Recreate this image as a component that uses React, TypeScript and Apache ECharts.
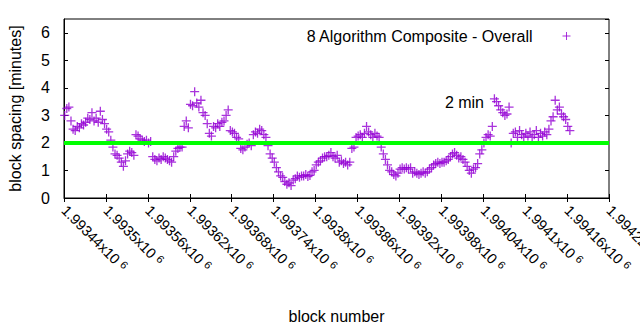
import React, { useEffect, useRef } from "react";
import * as echarts from "echarts";

// ---- data ----
const firstBlock = 1993441;
const blockStep = 3;
const spacingMinutes: number[] = [
  3.0, 3.25, 3.3, 2.8, 2.5,
  2.45, 2.6, 2.55, 2.7, 2.65,
  2.75, 2.9, 2.85, 3.1, 2.8,
  2.9, 2.75, 3.15, 2.85, 2.7,
  2.5, 2.4,
  2.1, 1.85, 1.6,
  1.55, 1.45,
  1.3, 1.15, 1.35,
  1.6, 1.7, 1.65,
  1.55,
  2.3, 2.25, 2.15,
  2.1, 2.05, 2.1, 2.0, 2.05,
  1.5, 1.4, 1.35, 1.45, 1.4,
  1.5, 1.45, 1.4, 1.35, 1.3,
  1.5, 1.7, 1.8, 1.85, 1.85,
  2.6, 2.8, 2.55,
  3.4, 3.35, 3.86, 3.45, 3.3,
  3.55, 3.1, 3.0,
  2.7, 2.35, 2.25,
  2.6, 2.55, 2.7, 2.6, 2.75, 2.8,
  3.0, 3.2,
  2.45, 2.4, 2.35,
  2.2, 2.15,
  1.8, 1.75, 1.85,
  1.95, 2.0, 1.9,
  2.3, 2.4, 2.35, 2.5, 2.45,
  2.3, 2.2, 1.9,
  1.6, 1.45, 1.3,
  1.1, 0.95, 0.8,
  0.75, 0.6, 0.5, 0.55, 0.45,
  0.65, 0.7, 0.8, 0.75, 0.8,
  0.8, 0.85, 0.78, 0.82,
  0.95, 1.0,
  1.2, 1.3, 1.35,
  1.45, 1.5, 1.5,
  1.55, 1.65, 1.5, 1.45, 1.55,
  1.3, 1.35, 1.25, 1.3, 1.2, 1.3,
  1.8, 1.85,
  2.2, 2.25, 2.3, 2.2, 2.35,
  2.6, 2.4,
  2.3, 2.2, 2.35, 2.25, 2.2,
  1.85, 1.6,
  1.4, 1.2,
  1.0, 0.95, 0.85, 0.8, 0.9,
  1.05, 1.1, 1.05, 1.1, 1.05, 1.1,
  0.9, 0.95, 0.9, 0.85, 0.9, 0.95, 0.9, 0.95,
  1.05, 1.1, 1.2, 1.25, 1.3, 1.25, 1.3,
  1.3, 1.35, 1.4, 1.5, 1.6, 1.65,
  1.55, 1.45, 1.5, 1.4,
  1.3, 1.15,
  1.0, 0.9, 1.05,
  1.1, 1.25,
  1.6, 1.75, 2.0,
  2.2, 2.3, 2.25,
  2.6,
  3.6, 3.5, 3.35,
  3.2, 3.1, 3.0, 3.05,
  3.3, 2.0,
  2.35, 2.4, 2.2, 2.45, 2.3,
  2.2, 2.35, 2.25, 2.4, 2.2,
  2.3, 2.45, 2.2, 2.35, 2.25,
  2.4, 2.3, 2.5,
  2.8, 2.95,
  3.55,
  3.2, 3.3, 3.05,
  2.95, 2.85,
  2.6, 2.45,
];

const seriesName = "8 Algorithm Composite - Overall";
const targetMinutes = 2;
const targetLabel = "2 min";

const xMin = 1993440;
const xMax = 1994220;
const xInterval = 60;
const xTickMantissas = [
  "1.99344", "1.9935", "1.99356", "1.99362", "1.99368", "1.99374", "1.9938",
  "1.99386", "1.99392", "1.99398", "1.99404", "1.9941", "1.99416", "1.99422",
];
const xExponent = "6";

const yMin = 0;
const yMax = 6.5;
const yInterval = 1;

const xTitle = "block number";
const yTitle = "block spacing [minutes]";

const PLUS = "path://M0,4.5H9M4.5,0V9";
const FONT = "'Liberation Sans', Arial, sans-serif";
const PURPLE = "#9400d3";

export default function App() {
  const ref = useRef<HTMLDivElement>(null);

  useEffect(() => {
    document.body.style.margin = "0";
    if (!ref.current) return;
    const chart = echarts.init(ref.current, undefined, { renderer: "svg" });

    const points = spacingMinutes.map((v, i) => [firstBlock + i * blockStep, v]);

    const tickCommon = {
      inside: true,
      length: 4,
      lineStyle: { color: "#000", width: 1 },
    };

    chart.setOption({
      animation: false,
      textStyle: { fontFamily: FONT },
      grid: {
        left: 64,
        right: 31,
        top: 19,
        bottom: 132,
        containLabel: false,
        outerBoundsMode: "none",
        show: true,
        borderColor: "#000",
        borderWidth: 1,
        backgroundColor: "transparent",
      },
      legend: {
        data: [
          {
            name: seriesName,
            icon: PLUS,
            itemStyle: { color: "transparent", borderColor: PURPLE, borderWidth: 1 },
          },
        ],
        right: 64,
        top: 23,
        align: "right",
        itemWidth: 8,
        itemHeight: 8,
        selectedMode: false,
        textStyle: { fontSize: 16, color: "#000", fontFamily: FONT, padding: [0, 25, 0, 0] },
      },
      xAxis: [
        {
          type: "value",
          min: xMin,
          max: xMax,
          interval: xInterval,
          position: "bottom",
          splitLine: { show: false },
          axisLine: { show: true, lineStyle: { color: "#000", width: 1 } },
          axisTick: tickCommon,
          axisLabel: {
            rotate: -45,
            margin: 10,
            color: "#000",
            hideOverlap: false,
            formatter: (v: number) => {
              const i = Math.round((v - xMin) / xInterval);
              const m = xTickMantissas[i] ?? "";
              return `{m|${m}x10 }{e|${xExponent}}`;
            },
            rich: {
              m: { fontSize: 14.5, fontFamily: FONT, color: "#000", lineHeight: 16 },
              e: { fontSize: 11, fontFamily: FONT, color: "#000", verticalAlign: "top", lineHeight: 16 },
            },
          },
          name: xTitle,
          nameLocation: "middle",
          nameGap: 110,
          nameTextStyle: { fontSize: 16, color: "#000", fontFamily: FONT },
        },
        {
          type: "value",
          min: xMin,
          max: xMax,
          interval: xInterval,
          position: "top",
          splitLine: { show: false },
          axisLine: { show: false },
          axisTick: tickCommon,
          axisLabel: { show: false },
        },
      ],
      yAxis: [
        {
          type: "value",
          min: yMin,
          max: yMax,
          interval: yInterval,
          position: "left",
          splitLine: { show: false },
          axisLine: { show: true, lineStyle: { color: "#000", width: 1 } },
          axisTick: tickCommon,
          axisLabel: {
            showMaxLabel: false,
            fontSize: 16,
            color: "#000",
            margin: 14,
            fontFamily: FONT,
          },
          name: yTitle,
          nameLocation: "middle",
          nameGap: 41,
          nameTextStyle: { fontSize: 16, color: "#000", fontFamily: FONT },
        },
        {
          type: "value",
          min: yMin,
          max: yMax,
          interval: yInterval,
          position: "right",
          splitLine: { show: false },
          axisLine: { show: false },
          axisTick: tickCommon,
          axisLabel: { show: false },
        },
      ],
      series: [
        {
          name: seriesName,
          type: "scatter",
          xAxisIndex: 0,
          yAxisIndex: 0,
          data: points,
          symbol: PLUS,
          symbolSize: 9,
          itemStyle: { color: "transparent", borderColor: PURPLE, borderWidth: 1.3 },
          emphasis: { disabled: true },
          markLine: {
            silent: true,
            symbol: ["none", "none"],
            data: [{ yAxis: targetMinutes }],
            lineStyle: { color: "#00ff00", width: 4, type: "solid" },
            label: { show: false },
          },
          z: 3,
        },
      ],
      graphic: [
        {
          type: "text",
          x: 484,
          y: 102,
          style: {
            text: targetLabel,
            align: "right",
            verticalAlign: "middle",
            fontSize: 16,
            fontFamily: FONT,
            fill: "#000",
          },
        },
      ],
    });

    return () => chart.dispose();
  }, []);

  return <div ref={ref} style={{ width: 640, height: 330 }} />;
}
